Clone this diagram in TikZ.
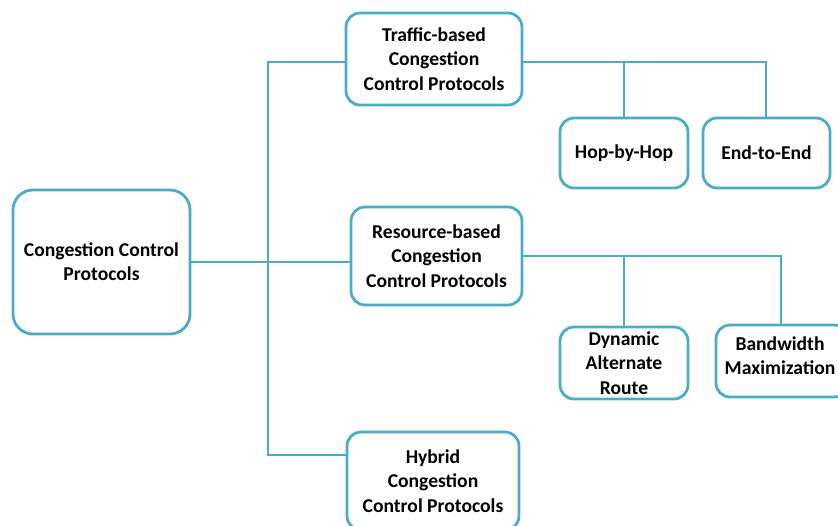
\documentclass[tikz,border=0pt]{standalone}
\usepackage{fontspec}
\setmainfont{Carlito}
\definecolor{linec}{RGB}{75,172,198}
\begin{document}
\begin{tikzpicture}[x=1pt,y=-1pt,
 box/.style={draw=linec, line width=2.8pt, rounded corners=14pt, fill=white, align=center,
   font=\fontsize{19.6}{24.2}\selectfont\bfseries, inner sep=0pt},
 conn/.style={draw=linec, line width=2.8pt}]
\useasboundingbox (0,0) rectangle (838,526);
\clip (0,0) rectangle (838,526);
\coordinate (j1) at (268,62);
\coordinate (j3) at (268,455);
% connectors
\draw[conn] (346,62) -- (j1) -- (j3) -- (347,455);
\draw[conn] (190,262) -- (351,262);
\draw[conn] (522,62) -- (766,62) -- (766,118);
\draw[conn] (624,62) -- (624,118);
\draw[conn] (522,256) -- (781,256) -- (781,325);
\draw[conn] (624,256) -- (624,327);
% nodes
\node[box, minimum width=177pt, minimum height=144pt, rounded corners=20pt] (root) at (101.5,262) {Congestion Control\\Protocols};
\node[box, minimum width=176pt, minimum height=92pt] (traffic) at (434,59) {Traffic-based\\Congestion\\Control Protocols};
\node[box, minimum width=171pt, minimum height=98pt] (resource) at (436.5,256) {Resource-based\\Congestion\\Control Protocols};
\node[box, minimum width=172pt, minimum height=98pt] (hybrid) at (433,481) {Hybrid\\Congestion\\Control Protocols};
\node[box, minimum width=128pt, minimum height=70pt] (hop) at (624,153) {Hop-by-Hop};
\node[box, minimum width=127pt, minimum height=70pt] (end) at (766.5,153) {End-to-End};
\node[box, minimum width=128pt, minimum height=72pt] (dyn) at (624,363) {Dynamic\\Alternate\\Route};
\node[box, minimum width=132pt, minimum height=72pt] (bw) at (782,361) {};
\node[font=\fontsize{19.6}{24.2}\selectfont\bfseries, align=center, inner sep=0pt] (bwt) at (780,355.5) {Bandwidth\\Maximization};
\end{tikzpicture}
\end{document}
